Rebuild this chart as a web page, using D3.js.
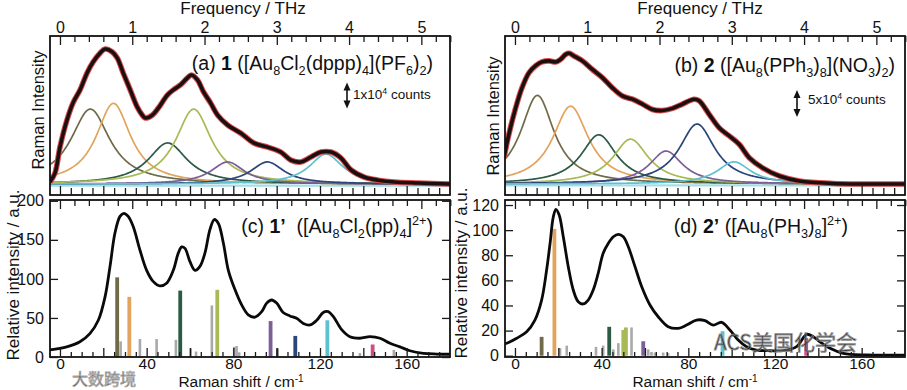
<!DOCTYPE html>
<html><head><meta charset="utf-8">
<script src="https://cdn.jsdelivr.net/npm/d3@7"></script>
<style>
body{margin:0;background:#fff}
svg{display:block}
text{font-family:"Liberation Sans",Arial,Helvetica,sans-serif;fill:#111;white-space:pre}
</style>
</head><body>
<svg id="chart" width="907" height="390"></svg>
<script>
// ---------------- DATA ----------------
const CM_PER_THZ = 33.356;
const cmDomain = [-4.6, 180];
const thzTicks = [0, 1, 2, 3, 4, 5];
const cmTicks = [0, 40, 80, 120, 160];
const cYTicks = [0, 50, 100, 150, 200];
const dYTicks = [0, 20, 40, 60, 80, 100, 120];

// (a) experimental spectrum, THz vs 10^4 counts
const aExpThz = [-0.139,-0.069,0,0.097,0.181,0.278,0.375,0.458,0.556,0.625,0.722,0.792,0.875,0.972,1.069,1.139,1.181,1.278,1.361,1.486,1.569,1.667,1.764,1.819,1.903,1.986,2.083,2.181,2.319,2.5,2.681,2.875,3.056,3.194,3.333,3.472,3.611,3.75,3.889,4.028,4.208,4.403,4.625,4.958,5.396];
const aExpVal = [0.08,0.42,1.42,2.46,3.12,3.62,4.27,4.69,5.04,5.19,5.08,4.85,4.27,3.62,2.96,2.65,2.54,2.65,2.92,3.42,3.62,3.81,4.08,4.19,4.0,3.54,3.12,2.65,2.27,1.96,1.58,1.42,1.23,0.92,0.85,1.04,1.23,1.23,1.0,0.54,0.27,0.15,0.08,0.04,0.0];
// (a) fitted Lorentzian components
const compNames = ["olive","orange","dkgreen","ygreen","purple","navy","cyan"];
const aCompCenter = [0.42,0.74,1.49,1.85,2.32,2.87,3.68];
const aCompHeight = [2.88,3.10,1.58,2.88,0.85,0.85,1.15];
const aCompWidth  = [0.33,0.29,0.33,0.30,0.28,0.28,0.28];

// (b) experimental spectrum
const bExpThz = [-0.152,-0.083,0.01,0.097,0.194,0.287,0.374,0.471,0.564,0.633,0.702,0.748,0.817,0.932,1.071,1.209,1.348,1.486,1.625,1.763,1.902,2.04,2.179,2.317,2.479,2.548,2.687,2.825,2.964,3.102,3.241,3.425,3.657,3.934,4.395,4.857,5.396];
const bExpVal = [4.87,9.26,14.1,17.8,20.6,21.9,22.6,22.8,22.6,23.1,24.0,24.2,23.7,22.8,21.2,19.7,17.8,16.3,15.7,14.8,13.8,13.6,14.0,14.8,15.7,15.4,12.9,10.4,8.9,7.35,4.87,3.0,1.48,0.56,0.1,0,0];
const bCompCenter = [0.31,0.77,1.16,1.60,2.09,2.52,3.03];
const bCompHeight = [16.4,14.4,9.1,8.3,6.1,11.1,4.1];
const bCompWidth  = [0.28,0.30,0.30,0.30,0.28,0.30,0.28];

// (c) calculated spectrum 1'
const cCurveCm = [-4.6,3.1,9.2,13.8,17.7,20.8,23.1,25.4,27.7,29.5,31.5,33.8,36.9,40,43.1,46.1,49.2,52.3,54.6,56.2,57.7,60,62.3,64.6,66.9,69.2,71.2,73.1,75.4,77.7,80.8,83.8,86.9,90,93.1,95.4,97.7,100,103,106.1,109.2,112.3,115.4,118.5,121.5,123.8,126.1,130,133.8,138.4,143.1,147.7,152.3,156.9,161.5,167.7,173.8,180];
const cCurveVal = [9,13,19.6,30,47,77,116,159,180,184,180,167,137,111,96.5,91,94.5,111,133,141,139,122,111,116,133,163,176,171,146,111,86,67,54,51,58,69,73,69,57,52.6,49.6,43,41,47,57,58,52,35,26,24,26,24,17.5,13,8,4.7,3.8,3.5];
const cStickCm   = [26.4,28,32,36.9,44.6,53.5,55.5,60.3,62.8,70.1,72.6,80.4,81.5,82.7,97.2,100.3,108.6,123.4,138.4,144.3,154.1];
const cStickVal  = [102,20,77,23,23,22,85,11,7,66,86,13,14,6,46,11,27,47,5,16,9];
const cStickKind = ["olive","gray","orange","gray","gray","gray","dkgreen","gray","gray","gray","ygreen","gray","gray","gray","purple","dkgray","navy","cyan","gray","pink","gray"];

// (d) calculated spectrum 2'
const dCurveCm = [-4.6,-3.8,0.8,5.4,9.2,12.3,14.6,16.2,17.7,18.9,20.4,22.3,24.6,26.9,29.2,31.5,33.8,36.1,38.4,40.7,43.1,45.4,47.7,50,52.3,55.4,58.5,62.3,66.1,70.7,75.4,79.2,83.8,87.7,91.5,95.4,99.2,103,106.9,111.5,117.7,123.8,130,134.6,137.7,140.7,145.4,151.5,162.3,180];
const dCurveVal = [9.5,9.9,13.9,19.1,28.4,44.3,68.2,89.5,110.7,116.6,112,94.7,70.9,52.3,43,41.2,44.3,52.3,65.6,81.5,89.5,94.7,96.7,94.7,86.8,70.9,54.9,40.4,31,23.1,21.8,24.4,28.4,27.9,24.4,26.6,20.5,12.5,7.2,4.5,4,4,7.2,17,15.1,11.1,5.9,1.9,0.6,0.5];
const dStickCm   = [12.3,18.2,20.8,23.9,37.4,40.7,43.5,45.4,47.7,50,51.2,53.8,59.2,61.5,63,64.6,68.4,70.7,95.8,134.4];
const dStickVal  = [15,101,6,8,7,8,23,5,10,20.5,22.5,22.5,11.5,5,3,2.5,2.5,2,19.5,14];
const dStickKind = ["olive","orange","gray","gray","gray","gray","dkgreen","gray","gray","ygreen","ygreen","gray","purple","gray","gray","gray","gray","gray","cyan","pink"];

// ---------------- STYLE ----------------
const colors = {olive:"#6f6a48", orange:"#e2a45c", dkgreen:"#2b5a45", ygreen:"#a8ba55",
  purple:"#7d5f98", navy:"#2b4678", cyan:"#5fc0cf", pink:"#d24a86", gray:"#a9a9a9", dkgray:"#555"};

const svg = d3.select("#chart");
const L = [50, 450], R = [505, 905];
const topY = [36, 195], botY = [200, 357];

const xCmL = d3.scaleLinear().domain(cmDomain).range(L);
const xCmR = d3.scaleLinear().domain(cmDomain).range(R);
const xThL = d3.scaleLinear().domain(cmDomain.map(v => v / CM_PER_THZ)).range(L);
const xThR = d3.scaleLinear().domain(cmDomain.map(v => v / CM_PER_THZ)).range(R);
const yA = d3.scaleLinear().domain([-0.42, 5.69]).range(topY.slice().reverse());
const yB = d3.scaleLinear().domain([-2.04, 27.4]).range(topY.slice().reverse());
const yC = d3.scaleLinear().domain([0, 201]).range(botY.slice().reverse());
const yD = d3.scaleLinear().domain([-1.04, 124]).range(botY.slice().reverse());

const thzMinor = d3.range(0, 5.41, 0.2).filter(v => Math.abs(v - Math.round(v)) > 1e-6);
const cmMinor = d3.range(0, 180, 5).filter(v => v % 20 !== 0);
const cmMajor = d3.range(0, 180, 20);

function styleAxis(g, fs) {
  g.select(".domain").remove();
  g.selectAll(".tick line").attr("stroke", "#1a1a1a").attr("stroke-width", 1.3);
  g.selectAll(".tick text").attr("font-size", fs).attr("fill", "#111")
    .attr("font-family", '"Liberation Sans", Arial, Helvetica, sans-serif');
}

function frame(xr, yr) {
  svg.append("rect").attr("x", xr[0]).attr("y", yr[0])
    .attr("width", xr[1] - xr[0]).attr("height", yr[1] - yr[0])
    .attr("fill", "none").attr("stroke", "#111").attr("stroke-width", 1.8);
}

function thzAxis(scale, y, labels) {
  const g1 = svg.append("g").attr("transform", `translate(0,${y})`)
    .call(d3.axisTop(scale).tickValues(thzMinor).tickSize(-6).tickFormat(""));
  styleAxis(g1, 16);
  const g2 = svg.append("g").attr("transform", `translate(0,${y})`)
    .call(d3.axisTop(scale).tickValues(thzTicks).tickSize(-9).tickPadding(3)
      .tickFormat(labels ? d3.format("d") : ""));
  styleAxis(g2, 16);
}
function cmAxis(scale, y, labels) {
  const g1 = svg.append("g").attr("transform", `translate(0,${y})`)
    .call(d3.axisBottom(scale).tickValues(cmMinor).tickSize(labels ? -5 : -7).tickFormat(""));
  styleAxis(g1, 16);
  const g2 = svg.append("g").attr("transform", `translate(0,${y})`)
    .call(d3.axisBottom(scale).tickValues(cmMajor).tickSize(-9).tickPadding(1)
      .tickFormat(d => labels && cmTicks.includes(d) ? d : ""));
  styleAxis(g2, 15.5);
}
function yAxes(scale, xr, ticks) {
  const gl = svg.append("g").attr("transform", `translate(${xr[0]},0)`)
    .call(d3.axisLeft(scale).tickValues(ticks).tickSize(-8).tickPadding(6));
  styleAxis(gl, 16);
  const gr = svg.append("g").attr("transform", `translate(${xr[1]},0)`)
    .call(d3.axisRight(scale).tickValues(ticks).tickSize(-8).tickFormat(""));
  styleAxis(gr, 16);
}

function richText(x, y, parts, size, anchor, supScale) {
  const t = svg.append("text").attr("x", x).attr("y", y)
    .attr("text-anchor", anchor).attr("font-size", size);
  let shift = 0;
  parts.forEach(([s, k]) => {
    const ts = t.append("tspan").text(s);
    const target = k === "sub" ? 0.28 * size : k === "sup" ? -(supScale || 0.4) * size : 0;
    ts.attr("dy", target - shift); shift = target;
    if (k === "sub" || k === "sup") ts.attr("font-size", size * 0.65);
    if (k === "b") ts.attr("font-weight", "bold");
  });
  return t;
}

function lorentz(c, h, w) {
  const xs = d3.range(cmDomain[0] / CM_PER_THZ, cmDomain[1] / CM_PER_THZ + 0.005, 0.01);
  return xs.map(x => [x, h / (1 + ((x - c) / w) ** 2)]);
}

function topPanel(xr, xTh, xCm, yS, expT, expV, cc, ch, cw) {
  const clipId = "clip" + xr[0];
  svg.append("clipPath").attr("id", clipId).append("rect")
    .attr("x", xr[0]).attr("y", topY[0]).attr("width", xr[1] - xr[0]).attr("height", topY[1] - topY[0]);
  const g = svg.append("g").attr("clip-path", `url(#${clipId})`);
  const line = d3.line().x(d => xTh(d[0])).y(d => yS(d[1]));
  // baseline component
  g.append("path").datum([[xTh.domain()[0], -0.01 * yS.domain()[1]], [xTh.domain()[1], -0.01 * yS.domain()[1]]])
    .attr("d", line).attr("fill", "none").attr("stroke", "#a6dde6").attr("stroke-width", 2.2);
  cc.forEach((c, i) => {
    g.append("path").datum(lorentz(c, ch[i], cw[i])).attr("d", line)
      .attr("fill", "none").attr("stroke", colors[compNames[i]]).attr("stroke-width", 1.7);
  });
  const exp = expT.map((t, i) => [t, expV[i]]);
  const smooth = d3.line().x(d => xTh(d[0])).y(d => yS(d[1])).curve(d3.curveCatmullRom.alpha(0.5));
  g.append("path").datum(exp).attr("d", smooth).attr("fill", "none")
    .attr("stroke", "#d84a4a").attr("stroke-width", 5.6).attr("stroke-linejoin", "round");
  g.append("path").datum(exp).attr("d", smooth).attr("fill", "none")
    .attr("stroke", "#1c0f0f").attr("stroke-width", 3.6).attr("stroke-linejoin", "round");
  frame(xr, topY);
  thzAxis(xTh, topY[0], true);
  cmAxis(xCm, topY[1], false);
}

function botPanel(xr, xTh, xCm, yS, yTicks, curX, curV, stX, stV, stK) {
  const g = svg.append("g");
  stX.forEach((x, i) => {
    const gray = stK[i] === "gray" || stK[i] === "dkgray";
    const w = gray ? 2.6 : 3.8;
    g.append("rect").attr("x", xCm(x) - w / 2).attr("y", yS(stV[i]))
      .attr("width", w).attr("height", yS(0) - yS(stV[i]))
      .attr("fill", colors[stK[i]]);
  });
  const line = d3.line().x(d => xCm(d[0])).y(d => yS(d[1])).curve(d3.curveCatmullRom.alpha(0.5));
  g.append("path").datum(curX.map((x, i) => [x, curV[i]])).attr("d", line)
    .attr("fill", "none").attr("stroke", "#0a0a0a").attr("stroke-width", 2.8).attr("stroke-linejoin", "round");
  frame(xr, botY);
  thzAxis(xTh, botY[0], false);
  cmAxis(xCm, botY[1], true);
  yAxes(yS, xr, yTicks);
}

// watermark (behind the plots)
svg.append("text").attr("x", 72).attr("y", 385).attr("font-size", 16)
  .attr("fill", "#ffffff").attr("stroke", "#a0a0a0").attr("stroke-width", 0.8).attr("opacity", 0.85)
  .style("font-family", '"Noto Sans CJK SC", sans-serif').text("大数跨境");

topPanel(L, xThL, xCmL, yA, aExpThz, aExpVal, aCompCenter, aCompHeight, aCompWidth);
topPanel(R, xThR, xCmR, yB, bExpThz, bExpVal, bCompCenter, bCompHeight, bCompWidth);
botPanel(L, xThL, xCmL, yC, cYTicks, cCurveCm, cCurveVal, cStickCm, cStickVal, cStickKind);
botPanel(R, xThR, xCmR, yD, dYTicks, dCurveCm, dCurveVal, dStickCm, dStickVal, dStickKind);

svg.append("text").attr("x", 714).attr("y", 350).attr("font-size", 21)
  .attr("fill", "#ffffff").attr("stroke", "#8a8a8a").attr("stroke-width", 0.8).attr("opacity", 0.85)
  .style("font-family", '"Noto Sans CJK SC", sans-serif').text("ACS美国化学会");

// ---------------- TEXT ----------------
svg.append("text").attr("x", 243).attr("y", 14).attr("text-anchor", "middle").attr("font-size", 17).text("Frequency / THz");
svg.append("text").attr("x", 700).attr("y", 14).attr("text-anchor", "middle").attr("font-size", 17).text("Frequency / THz");

svg.append("text").attr("transform", "translate(44,110) rotate(-90)").attr("text-anchor", "middle").attr("font-size", 16.5).text("Raman Intensity");
svg.append("text").attr("transform", "translate(499,116) rotate(-90)").attr("text-anchor", "middle").attr("font-size", 16.5).text("Raman Intensity");
svg.append("text").attr("transform", "translate(19,275) rotate(-90)").attr("text-anchor", "middle").attr("font-size", 17).text("Relative intensity / a.u.");
svg.append("text").attr("transform", "translate(467,273) rotate(-90)").attr("text-anchor", "middle").attr("font-size", 17).text("Relative intensity / a.u.");

richText(241, 386.5, [["Raman shift / cm", "n"], ["-1", "sup"]], 15.5, "middle", 0.3);
richText(695, 386.5, [["Raman shift / cm", "n"], ["-1", "sup"]], 15.5, "middle", 0.3);

richText(433, 70, [["(a) ", "n"], ["1", "b"], [" ([Au", "n"], ["8", "sub"], ["Cl", "n"], ["2", "sub"], ["(dppp)", "n"], ["4", "sub"], ["](PF", "n"], ["6", "sub"], [")", "n"], ["2", "sub"], [")", "n"]], 19.5, "end");
richText(895, 72, [["(b) ", "n"], ["2", "b"], [" ([Au", "n"], ["8", "sub"], ["(PPh", "n"], ["3", "sub"], [")", "n"], ["8", "sub"], ["](NO", "n"], ["3", "sub"], [")", "n"], ["2", "sub"], [")", "n"]], 19.5, "end");
richText(433, 233, [["(c) ", "n"], ["1\u2019", "b"], ["  ([Au", "n"], ["8", "sub"], ["Cl", "n"], ["2", "sub"], ["(pp)", "n"], ["4", "sub"], ["]", "n"], ["2+", "sup"], [")", "n"]], 19.5, "end");
richText(848, 233, [["(d) ", "n"], ["2\u2019", "b"], [" ([Au", "n"], ["8", "sub"], ["(PH", "n"], ["3", "sub"], [")", "n"], ["8", "sub"], ["]", "n"], ["2+", "sup"], [")", "n"]], 19.5, "end");

// scale bars (length = 1x10^4 and 5x10^4 counts on the panel scales)
function scaleBar(x, y0, y1, label, tx, ty) {
  svg.append("line").attr("x1", x).attr("x2", x).attr("y1", y0 + 4).attr("y2", y1 - 4)
    .attr("stroke", "#111").attr("stroke-width", 1.6);
  svg.append("path").attr("d", `M${x - 3.5},${y0 + 8}L${x},${y0}L${x + 3.5},${y0 + 8}Z`).attr("fill", "#111");
  svg.append("path").attr("d", `M${x - 3.5},${y1 - 8}L${x},${y1}L${x + 3.5},${y1 - 8}Z`).attr("fill", "#111");
  richText(tx, ty, [[label[0], "n"], [label[1], "sup"], [label[2], "n"]], 13.5, "start");
}
scaleBar(347, yA(3.9), yA(2.9), ["1x10", "4", " counts"], 353, 99);
scaleBar(797, yB(17.4), yB(12.4), ["5x10", "4", " counts"], 808, 104);
</script>
</body></html>
